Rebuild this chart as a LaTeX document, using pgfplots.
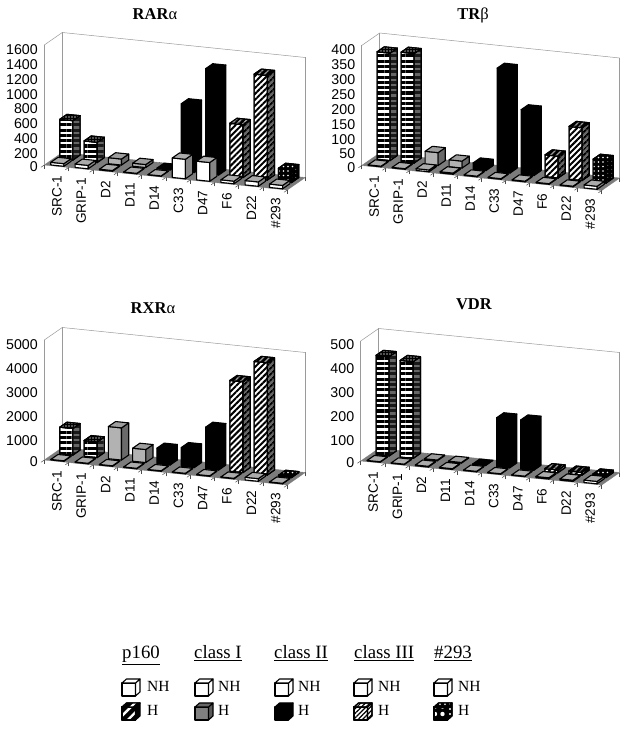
\documentclass[border=0pt]{standalone}
\usepackage{fontspec}
\setmainfont{Liberation Serif}
\newfontfamily\tsans{Liberation Sans}
\usepackage{pgfplots}
\pgfplotsset{compat=1.18}
\usetikzlibrary{patterns.meta}
\definecolor{floorgray}{HTML}{7C7C7C}
\definecolor{topgray}{HTML}{ABABAB}
\definecolor{sidegray}{HTML}{858585}
\definecolor{darkside}{HTML}{6A6A6A}
\definecolor{wallline}{HTML}{9A9A9A}
\tikzset{
 barface/.style={draw=black,line width=1.1pt,line join=round},
 nh-front/.style={barface,fill=white},
 nh-top/.style={barface,fill=topgray},
 nh-side/.style={barface,fill=sidegray},
 ps-front/.style={barface,fill=white,postaction={pattern={Lines[angle=0,distance=5.3pt,line width=3.1pt]},pattern color=black}},
 ps-top/.style={barface,fill=black,postaction={pattern={Dots[radius=0.9pt,distance=3pt]},pattern color=black!35}},
 ps-side/.style={barface,fill=black!60,postaction={pattern={Lines[angle=0,distance=5.3pt,line width=3pt]},pattern color=black!90}},
 c1-front/.style={barface,fill=black!30},
 c1-top/.style={barface,fill=black!38},
 c1-side/.style={barface,fill=darkside},
 c2-front/.style={barface,fill=black},
 c2-top/.style={barface,fill=black},
 c2-side/.style={barface,fill=black},
 c3-front/.style={barface,fill=white,postaction={pattern={Lines[angle=45,distance=4.2pt,line width=2pt]},pattern color=black}},
 c3-top/.style={barface,fill=black,postaction={pattern={Lines[angle=45,distance=4pt,line width=1.6pt]},pattern color=black!40}},
 c3-side/.style={barface,fill=black!60,postaction={pattern={Lines[angle=45,distance=4pt,line width=1.8pt]},pattern color=black}},
 c4-front/.style={barface,fill=black,postaction={pattern={Dots[radius=0.8pt,distance=4.5pt]},pattern color=white}},
 c4-top/.style={barface,fill=black,postaction={pattern={Dots[radius=0.8pt,distance=4.5pt]},pattern color=white}},
 c4-side/.style={barface,fill=black,postaction={pattern={Dots[radius=0.6pt,distance=4pt]},pattern color=black!50}},
 lw-front/.style={barface,fill=white},
 lw-top/.style={barface,fill=white},
 lw-side/.style={barface,fill=white},
 lp-front/.style={barface,fill=black,postaction={pattern={Lines[angle=45,distance=7pt,line width=2.4pt]},pattern color=white}},
 lp-top/.style={barface,fill=black,postaction={pattern={Lines[angle=45,distance=7pt,line width=2pt]},pattern color=white}},
 lp-side/.style={barface,fill=black},
 l1-front/.style={barface,fill=black!50},
 l1-top/.style={barface,fill=black!60},
 l1-side/.style={barface,fill=black!65},
 l2-front/.style={barface,fill=black},
 l2-top/.style={barface,fill=black},
 l2-side/.style={barface,fill=black},
 l3-front/.style={barface,fill=white,postaction={pattern={Lines[angle=45,distance=3.2pt,line width=1.2pt]},pattern color=black}},
 l3-top/.style={l3-front},
 l3-side/.style={l3-front},
 l4-front/.style={barface,fill=black,postaction={pattern={Dots[radius=2.2pt,distance=7.5pt]},pattern color=white}},
 l4-top/.style={barface,fill=black,postaction={pattern={Dots[radius=1.2pt,distance=5pt]},pattern color=white}},
 l4-side/.style={barface,fill=black,postaction={pattern={Dots[radius=1.2pt,distance=5pt]},pattern color=white}},
}
% one 3-D bar: category, row (0 NH, 1 H), value, kind
\newcommand\barbox[4]{%
 \pgfmathsetmacro\xa{#1+0.23}\pgfmathsetmacro\xb{#1+0.77}%
 \pgfmathsetmacro\ya{#2+0.1}\pgfmathsetmacro\yb{#2+0.9}%
 \addplot3[#4-front] coordinates {(\xa,\ya,0)(\xb,\ya,0)(\xb,\ya,#3)(\xa,\ya,#3)} --cycle;
 \addplot3[#4-side] coordinates {(\xb,\ya,0)(\xb,\yb,0)(\xb,\yb,#3)(\xb,\ya,#3)} --cycle;
 \addplot3[#4-top] coordinates {(\xa,\ya,#3)(\xb,\ya,#3)(\xb,\yb,#3)(\xa,\yb,#3)} --cycle;
}
\newcommand\floorpatch{\addplot3[draw=none,fill=floorgray] coordinates {(0,0,0)(10,0,0)(10,2,0)(0,2,0)} --cycle;}
\pgfplotsset{panel/.style={
 clip=false, xmin=0,xmax=10,ymin=0,ymax=2,zmin=0,
 ytick=\empty,
 xtick={0.5,1.5,2.5,3.5,4.5,5.5,6.5,7.5,8.5,9.5},
 xticklabels={SRC-1,GRIP-1,D2,D11,D14,C33,D47,F6,D22,\#293},
 minor xtick={0,1,2,3,4,5,6,7,8,9,10},
 major tick length=0pt,
 minor tick length=4pt,
 tick align=outside,
 tick pos=left,
 tick style={draw=black!70,line width=0.5pt},
 axis line style={draw=wallline,line width=0.5pt},
 /pgf/number format/assume math mode=true,
 /pgf/number format/1000 sep={},
 xticklabel style={font=\tsans\fontsize{13.6}{14}\selectfont,rotate=90,anchor=east,yshift=-0.5pt,xshift=-6pt},
 zticklabel style={font=\tsans\fontsize{14.2}{14}\selectfont,xshift=-3pt},
 anchor=origin,
}}
\begin{document}
\begin{tikzpicture}[x=1pt,y=1pt]
\useasboundingbox (0pt,0pt) rectangle (633pt,729pt);
\fill[white] (0pt,0pt) rectangle (633pt,729pt);
% ---- RAR alpha
\begin{axis}[panel,at={(44.3pt,564pt)},x={(24.3pt,-2.5pt)},y={(9pt,6.25pt)},z={(0pt,0.075pt)},zmax=1600,ztick={0,200,400,600,800,1000,1200,1400,1600}]
\floorpatch
\barbox{0}{1}{525}{ps}\barbox{1}{1}{270}{ps}\barbox{2}{1}{80}{c1}\barbox{3}{1}{40}{c1}\barbox{4}{1}{8}{c2}
\barbox{5}{1}{900}{c2}\barbox{6}{1}{1400}{c2}\barbox{7}{1}{706}{c3}\barbox{8}{1}{1395}{c3}\barbox{9}{1}{173}{c4}
\barbox{0}{0}{35}{nh}\barbox{1}{0}{45}{nh}\barbox{2}{0}{10}{nh}\barbox{3}{0}{6}{nh}\barbox{4}{0}{5}{nh}
\barbox{5}{0}{260}{nh}\barbox{6}{0}{250}{nh}\barbox{7}{0}{35}{nh}\barbox{8}{0}{58}{nh}\barbox{9}{0}{45}{nh}
\end{axis}
% ---- TR beta
\begin{axis}[panel,at={(361.7pt,563.5pt)},x={(24pt,-2.5pt)},y={(9pt,6.25pt)},z={(0pt,0.3pt)},zmax=400,ztick={0,50,100,150,200,250,300,350,400}]
\floorpatch
\barbox{0}{1}{358}{ps}\barbox{1}{1}{365}{ps}\barbox{2}{1}{43}{c1}\barbox{3}{1}{23}{c1}\barbox{4}{1}{21}{c2}
\barbox{5}{1}{345}{c2}\barbox{6}{1}{215}{c2}\barbox{7}{1}{73}{c3}\barbox{8}{1}{176}{c3}\barbox{9}{1}{75}{c4}
\barbox{0}{0}{2}{nh}\barbox{1}{0}{2}{nh}\barbox{2}{0}{6}{nh}\barbox{3}{0}{4}{nh}\barbox{4}{0}{2}{nh}
\barbox{5}{0}{2}{nh}\barbox{6}{0}{2}{nh}\barbox{7}{0}{2}{nh}\barbox{8}{0}{2}{nh}\barbox{9}{0}{10}{nh}
\end{axis}
% ---- RXR alpha
\begin{axis}[panel,at={(44.3pt,269pt)},x={(24.3pt,-2.5pt)},y={(9pt,6.25pt)},z={(0pt,0.024pt)},zmax=5000,ztick={0,1000,2000,3000,4000,5000}]
\floorpatch
\barbox{0}{1}{1105}{ps}\barbox{1}{1}{653}{ps}\barbox{2}{1}{1340}{c1}\barbox{3}{1}{542}{c1}\barbox{4}{1}{650}{c2}
\barbox{5}{1}{778}{c2}\barbox{6}{1}{1730}{c2}\barbox{7}{1}{3780}{c3}\barbox{8}{1}{4680}{c3}\barbox{9}{1}{40}{c4}
\barbox{0}{0}{20}{nh}\barbox{1}{0}{20}{nh}\barbox{2}{0}{20}{nh}\barbox{3}{0}{20}{nh}\barbox{4}{0}{20}{nh}
\barbox{5}{0}{20}{nh}\barbox{6}{0}{20}{nh}\barbox{7}{0}{20}{nh}\barbox{8}{0}{110}{nh}\barbox{9}{0}{20}{nh}
\end{axis}
% ---- VDR
\begin{axis}[panel,at={(360.7pt,268pt)},x={(24.1pt,-2.4pt)},y={(9pt,6.25pt)},z={(0pt,0.24pt)},zmax=500,ztick={0,100,200,300,400,500}]
\floorpatch
\barbox{0}{1}{414}{ps}\barbox{1}{1}{403}{ps}\barbox{2}{1}{3}{c1}\barbox{3}{1}{3}{c1}\barbox{4}{1}{1}{c2}
\barbox{5}{1}{204}{c2}\barbox{6}{1}{205}{c2}\barbox{7}{1}{12}{c3}\barbox{8}{1}{12}{c3}\barbox{9}{1}{10}{c4}
\barbox{0}{0}{2}{nh}\barbox{1}{0}{2}{nh}\barbox{2}{0}{3}{nh}\barbox{3}{0}{3}{nh}\barbox{4}{0}{2}{nh}
\barbox{5}{0}{2}{nh}\barbox{6}{0}{2}{nh}\barbox{7}{0}{5}{nh}\barbox{8}{0}{5}{nh}\barbox{9}{0}{10}{nh}
\end{axis}
% ---- titles
\node[font=\fontsize{16.5}{16}\selectfont] at (155pt,715pt) {\textbf{RAR}α};
\node[font=\fontsize{16.5}{16}\selectfont] at (473pt,714pt) {\textbf{TR}β};
\node[font=\fontsize{16.5}{16}\selectfont] at (153pt,421pt) {\textbf{RXR}α};
\node[font=\fontsize{16.5}{16}\selectfont] at (474pt,425pt) {\textbf{VDR}};
% ---- legend
\begin{axis}[hide axis,clip=false,anchor=origin,at={(0pt,0pt)},x=1pt,y=1pt,xmin=0,xmax=633,ymin=0,ymax=729]
\newcommand\cube[3]{%
 \pgfmathsetmacro\xa{#1}\pgfmathsetmacro\xb{#1+13.5}\pgfmathsetmacro\xc{#1+18}\pgfmathsetmacro\xd{#1+4.5}%
 \pgfmathsetmacro\ya{#2}\pgfmathsetmacro\yb{#2+13}\pgfmathsetmacro\yc{#2+17}\pgfmathsetmacro\yd{#2+4}%
 \addplot[#3-front] coordinates {(\xa,\ya)(\xb,\ya)(\xb,\yb)(\xa,\yb)} --cycle;
 \addplot[#3-side] coordinates {(\xb,\ya)(\xc,\yd)(\xc,\yc)(\xb,\yb)} --cycle;
 \addplot[#3-top] coordinates {(\xa,\yb)(\xb,\yb)(\xc,\yc)(\xd,\yc)} --cycle;
}
\cube{122}{33}{lw}\cube{195}{33}{lw}\cube{275}{33}{lw}\cube{354}{33}{lw}\cube{434}{33}{lw}
\cube{122}{9}{lp}\cube{195}{9}{l1}\cube{275}{9}{l2}\cube{354}{9}{l3}\cube{434}{9}{l4}
\end{axis}
\foreach \x/\t in {122/p160,194/class I,274/class II,354/class III,434/\#293}
 \node[anchor=base west,inner sep=0pt,font=\fontsize{18.8}{19}\selectfont] at (\x pt,70pt) {\underline{\t}};
\foreach \x in {147,218,298,378,458}{
 \node[anchor=base west,inner sep=0pt,font=\fontsize{15.5}{16}\selectfont] at (\x pt,37pt) {NH};
 \node[anchor=base west,inner sep=0pt,font=\fontsize{15.5}{16}\selectfont] at (\x pt,13pt) {H};
}
\end{tikzpicture}
\end{document}
